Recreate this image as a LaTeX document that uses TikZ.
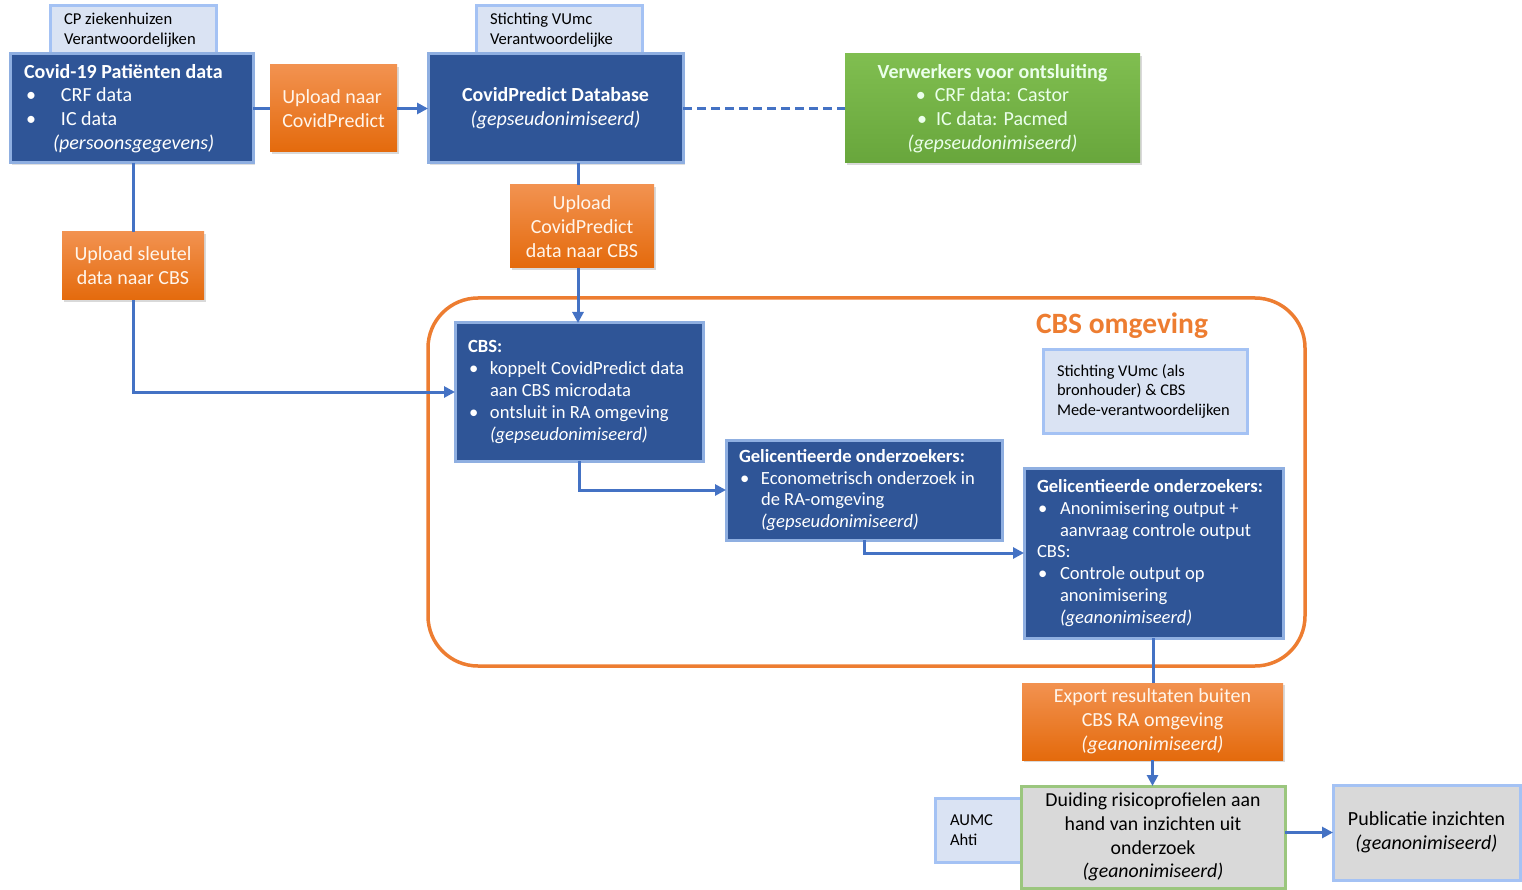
\documentclass[tikz,border=0pt]{standalone}
\usepackage{fontspec}
\setmainfont{Carlito}
\usetikzlibrary{arrows.meta,shadows}
\definecolor{dblue}{RGB}{47,85,151}
\definecolor{glow}{RGB}{143,175,225}
\definecolor{lblue}{RGB}{218,227,243}
\definecolor{lborder}{RGB}{164,194,244}
\definecolor{orange1}{RGB}{242,146,80}
\definecolor{orange2}{RGB}{228,106,12}
\definecolor{orangeline}{RGB}{237,125,49}
\definecolor{green1}{RGB}{128,190,80}
\definecolor{green2}{RGB}{104,166,60}
\definecolor{conn}{RGB}{68,114,196}
\definecolor{gray1}{RGB}{217,217,217}
\definecolor{gborder}{RGB}{112,173,71}
\newcommand\bu[2]{\hspace*{#1}\makebox[#2][l]{\textbullet}}
\begin{document}
\begin{tikzpicture}[x=1pt,y=-1pt,
  box/.style={rectangle, anchor=north west, inner sep=0pt, outer sep=0pt},
  darkbox/.style={box, fill=dblue, draw=glow, line width=3pt, text=white,
     drop shadow={opacity=0.25, shadow xshift=2pt, shadow yshift=-2pt}},
  lightbox/.style={box, fill=lblue, draw=lborder, line width=3pt, text=black},
  orangebox/.style={box, top color=orange1, bottom color=orange2, draw=none, text=white!92!orange,
     drop shadow={opacity=0.3, shadow xshift=2pt, shadow yshift=-2pt}},
  greenbox/.style={box, top color=green1, bottom color=green2, draw=none, text=white!92!green,
     drop shadow={opacity=0.3, shadow xshift=2pt, shadow yshift=-2pt}},
  graybox/.style={box, fill=gray1, line width=3pt, text=black},
  link/.style={draw=conn, line width=3pt},
  arr/.style={link, -{Triangle[length=11pt,width=11pt]}},
  bodyfont/.style={font=\fontsize{20}{23.8}\selectfont},
  midfont/.style={font=\fontsize{18.6}{21.8}\selectfont},
  smallfont/.style={font=\fontsize{16.6}{20}\selectfont},
]
\useasboundingbox (0,0) rectangle (1522,890);

% CBS omgeving frame
\draw[orangeline, line width=3.5pt, rounded corners=50pt] (428,298) rectangle (1305,666);
\node[text=orangeline, font=\fontsize{29.5}{32}\selectfont\bfseries, anchor=center] (cbslabel) at (1122,326) {CBS omgeving};

% top row
\node[lightbox, minimum width=166, minimum height=48, smallfont] (cplabel) at (50,6)
  {\begin{minipage}[c][48pt][c]{166pt}\hspace*{14pt}CP ziekenhuizen\\\hspace*{14pt}Verantwoordelijken\end{minipage}};
\node[darkbox, minimum width=243, minimum height=109, bodyfont] (covid) at (10,54)
  {\begin{minipage}[c][109pt][c]{243pt}\raggedright
   \hspace*{14pt}\textbf{Covid-19 Patiënten data}\\
   \bu{16pt}{35pt}CRF data\\
   \bu{16pt}{35pt}IC data\\
   \hspace*{43pt}\textit{(persoonsgegevens)}\end{minipage}};
\node[orangebox, minimum width=127, minimum height=87, bodyfont, align=left] (upnaar) at (270,65)
  {Upload naar\\CovidPredict};
\node[lightbox, minimum width=166, minimum height=48, smallfont] (vulabel) at (476,6)
  {\begin{minipage}[c][48pt][c]{166pt}\hspace*{14pt}Stichting VUmc\\\hspace*{14pt}Verantwoordelijke\end{minipage}};
\node[darkbox, minimum width=255, minimum height=109, bodyfont, align=center] (db) at (428,54)
  {\textbf{CovidPredict Database}\\\textit{(gepseudonimiseerd)}};
\node[greenbox, minimum width=295, minimum height=109, bodyfont, align=center] (green) at (845,54)
  {\textbf{Verwerkers voor ontsluiting}\\\textbullet\ \ CRF data: Castor\\\textbullet\ \ IC data: Pacmed\\\textit{(gepseudonimiseerd)}};

\node[orangebox, minimum width=144, minimum height=83, bodyfont, align=center] (upcp) at (510,185)
  {Upload\\CovidPredict\\data naar CBS};
\node[orangebox, minimum width=142, minimum height=68, bodyfont, align=center] (upsl) at (62,232)
  {Upload sleutel\\data naar CBS};

% CBS env
\node[darkbox, minimum width=248, minimum height=138, midfont] (cbs) at (455,323)
  {\begin{minipage}[c][138pt][c]{248pt}\raggedright
   \hspace*{13pt}\textbf{CBS:}\\
   \bu{14pt}{21pt}koppelt CovidPredict data\\
   \hspace*{35pt}aan CBS microdata\\
   \bu{14pt}{21pt}ontsluit in RA omgeving\\
   \hspace*{35pt}\textit{(gepseudonimiseerd)}\end{minipage}};
\node[lightbox, minimum width=204, minimum height=84, font=\fontsize{16.4}{19.5}\selectfont] (stich) at (1043,349)
  {\begin{minipage}[c][84pt][c]{204pt}\raggedright
   \hspace*{14pt}Stichting VUmc (als\\\hspace*{14pt}bronhouder) \& CBS\\\hspace*{14pt}Mede-verantwoordelijken\end{minipage}};
\node[darkbox, minimum width=276, minimum height=100, midfont] (gel1) at (726,440)
  {\begin{minipage}[c][100pt][c]{276pt}\raggedright
   \hspace*{13pt}\textbf{Gelicentieerde onderzoekers:}\\
   \bu{14pt}{21pt}Econometrisch onderzoek in\\
   \hspace*{35pt}de RA-omgeving\\
   \hspace*{35pt}\textit{(gepseudonimiseerd)}\end{minipage}};
\node[darkbox, minimum width=259, minimum height=170, midfont] (gel2) at (1024,468)
  {\begin{minipage}[c][170pt][c]{259pt}\raggedright
   \hspace*{13pt}\textbf{Gelicentieerde onderzoekers:}\\
   \bu{14pt}{22pt}Anonimisering output +\\
   \hspace*{36pt}aanvraag controle output\\
   \hspace*{13pt}CBS:\\
   \bu{14pt}{22pt}Controle output op\\
   \hspace*{36pt}anonimisering\\
   \hspace*{36pt}\textit{(geanonimiseerd)}\end{minipage}};

% bottom
\node[orangebox, minimum width=261, minimum height=77, bodyfont, align=center] (export) at (1022,683)
  {Export resultaten buiten\\CBS RA omgeving\\\textit{(geanonimiseerd)}};
\node[lightbox, minimum width=86, minimum height=64, smallfont] (aumc) at (935,798)
  {\begin{minipage}[c][64pt][c]{86pt}\hspace*{15pt}AUMC\\\hspace*{15pt}Ahti\end{minipage}};
\node[graybox, draw=gborder!70, minimum width=264, minimum height=102, font=\fontsize{19.8}{23.7}\selectfont, align=center] (duid) at (1021,786)
  {Duiding risicoprofielen aan\\hand van inzichten uit\\onderzoek\\\textit{(geanonimiseerd)}};
\node[graybox, draw=lborder, minimum width=187, minimum height=95, bodyfont, align=center] (pub) at (1333,785)
  {Publicatie inzichten\\\textit{(geanonimiseerd)}};

% connectors
\draw[link] (covid.east) -- (upnaar.west);
\draw[arr] (upnaar.east) -- (db.west);
\draw[draw=conn, line width=3.5pt, dash pattern=on 9pt off 5pt] (db.east) -- (green.west);
\draw[link] (db.south -| upcp.north) ++(-4,0) coordinate (dbdown) -- (dbdown |- upcp.north);
\draw[arr] (upcp.south) ++(-4,0) coordinate (upcpdown) -- (upcpdown |- cbs.north);
\draw[link] (covid.south -| upsl.north) -- (upsl.north);
\draw[arr] (upsl.south) |- (cbs.west);
\draw[arr] (cbs.south) |- (gel1.west);
\draw[arr] (gel1.south) |- (gel2.west);
\draw[link] (gel2.south) -- (gel2.south |- export.north);
\draw[arr] (export.south) -- (export.south |- duid.north);
\draw[arr] (pub.west -| duid.east) -- (pub.west);
\end{tikzpicture}
\end{document}
